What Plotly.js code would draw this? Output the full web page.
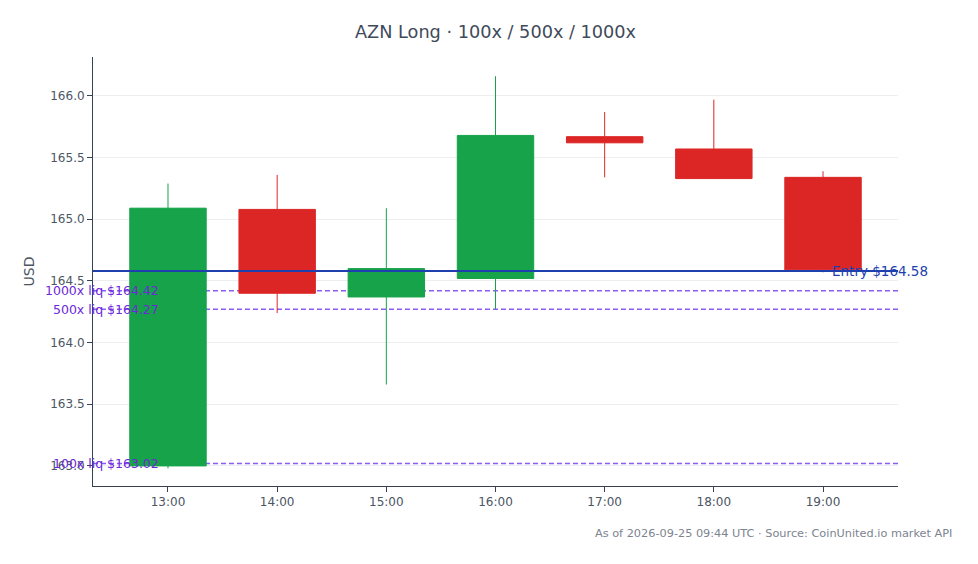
<!DOCTYPE html>
<html>
<head>
<meta charset="utf-8">
<script src="https://cdn.plot.ly/plotly-3.0.1.min.js"></script>
<style>html,body{margin:0;padding:0;background:#fff;}#chart{width:978px;height:564px;}</style>
</head>
<body>
<div id="chart"></div>
<script>
// Hourly candles (UTC)
const times = ['2026-09-24 13:00','2026-09-24 14:00','2026-09-24 15:00','2026-09-24 16:00','2026-09-24 17:00','2026-09-24 18:00','2026-09-24 19:00'];
const opens  = [163.00, 165.08, 164.37, 164.52, 165.67, 165.57, 165.34];
const highs  = [165.29, 165.36, 165.09, 166.16, 165.87, 165.97, 165.39];
const lows   = [162.98, 164.24, 163.66, 164.27, 165.34, 165.33, 164.57];
const closes = [165.09, 164.40, 164.60, 165.68, 165.62, 165.33, 164.59];

const entryPrice = 164.58;
const leverages = ['100x', '500x', '1000x'];
const liqPrices = [163.02, 164.27, 164.42];

const titleText = 'AZN Long · 100x / 500x / 1000x';
const sourceText = 'As of 2026-09-25 09:44 UTC · Source: CoinUnited.io market API';

const GREEN = '#16a34a', RED = '#dc2626';
const ENTRY = '#1e40af', LIQ_LINE = '#8b5cf6', LIQ_TEXT = '#6d28d9';
const FONT = 'DejaVu Sans, Verdana, sans-serif';

const trace = {
  type: 'candlestick',
  x: times, open: opens, high: highs, low: lows, close: closes,
  increasing: {line: {color: GREEN, width: 1}, fillcolor: GREEN},
  decreasing: {line: {color: RED, width: 1}, fillcolor: RED},
  showlegend: false,
  hoverinfo: 'skip'
};

const shapes = [];
const annotations = [];
liqPrices.forEach((p, i) => {
  shapes.push({type: 'line', xref: 'paper', x0: 0, x1: 1, yref: 'y', y0: p, y1: p,
    layer: 'below', line: {color: LIQ_LINE, width: 1.5, dash: '5px,3px'}});
  annotations.push({xref: 'x', x: times[0], xanchor: 'right', xshift: -7, yref: 'y', y: p, yanchor: 'middle',
    text: leverages[i] + ' liq $' + p.toFixed(2), showarrow: false,
    font: {family: FONT, size: 12.5, color: LIQ_TEXT}});
});
shapes.push({type: 'line', xref: 'paper', x0: 0, x1: 1, yref: 'y', y0: entryPrice, y1: entryPrice,
  layer: 'above', line: {color: ENTRY, width: 2}});
annotations.push({xref: 'x', x: times[times.length - 1], xanchor: 'left', xshift: 7, yref: 'y', y: entryPrice, yanchor: 'middle',
  text: 'Entry $' + entryPrice.toFixed(2), showarrow: false,
  font: {family: FONT, size: 13.5, color: ENTRY}});
annotations.push({xref: 'paper', yref: 'paper', x: 1.0696, y: -0.1096, xanchor: 'right', yanchor: 'middle',
  text: sourceText, showarrow: false, font: {family: FONT, size: 11.3, color: '#7c8490'}});

const layout = {
  width: 978, height: 564,
  margin: {l: 93, r: 80, t: 57, b: 78},
  paper_bgcolor: '#ffffff', plot_bgcolor: '#ffffff',
  font: {family: FONT, size: 12, color: '#4b5563'},
  boxgroupgap: 0,
  title: {text: titleText, x: 0.5, xref: 'paper', xanchor: 'center', y: 0.943, yref: 'container', yanchor: 'middle',
    font: {family: FONT, size: 17.7, color: '#3f4a5a'}},
  showlegend: false,
  xaxis: {
    type: 'date',
    range: ['2026-09-24 12:18:47', '2026-09-24 19:41:13'],
    rangeslider: {visible: false},
    tickformat: '%H:%M', dtick: 3600000, tick0: '2026-09-24 13:00',
    showgrid: false, zeroline: false,
    showline: true, linecolor: '#374151', linewidth: 1,
    ticks: 'outside', ticklen: 5, tickcolor: '#374151',
    tickfont: {family: FONT, size: 12, color: '#4b5563'}
  },
  yaxis: {
    range: [162.837, 166.316],
    dtick: 0.5, tick0: 163, tickformat: '.1f',
    showgrid: true, gridcolor: '#eceef2', gridwidth: 1, zeroline: false,
    showline: true, linecolor: '#374151', linewidth: 1,
    ticks: 'outside', ticklen: 5, tickcolor: '#374151',
    tickfont: {family: FONT, size: 12, color: '#4b5563'},
    title: {text: 'USD', font: {family: FONT, size: 14, color: '#4b5563'}, standoff: 12}
  },
  shapes: shapes,
  annotations: annotations,
  hovermode: false
};

Plotly.newPlot('chart', [trace], layout, {displayModeBar: false, staticPlot: true});
</script>
</body>
</html>
